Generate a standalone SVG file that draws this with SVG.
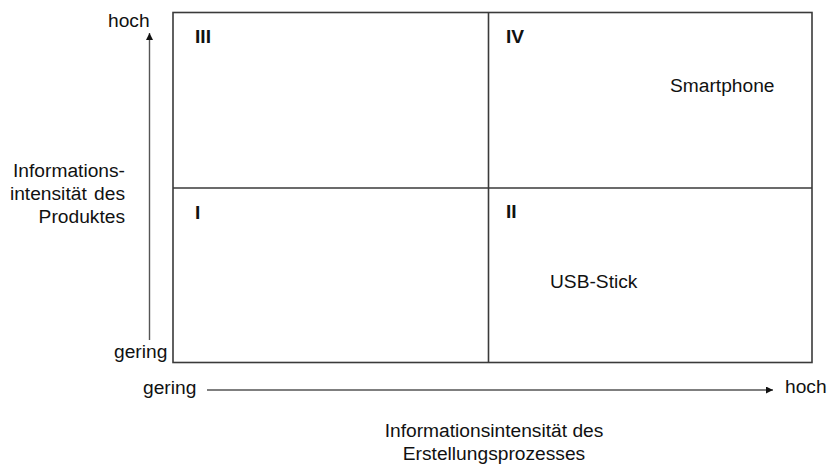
<svg xmlns="http://www.w3.org/2000/svg" width="829" height="466" viewBox="0 0 829 466">
<style>
text{font-family:"Liberation Sans",Arial,sans-serif;font-size:19.2px;fill:#111}
.b{font-weight:bold}
.box{fill:none;stroke:#3a3a3a;stroke-width:1.6}
.ax{stroke:#555;stroke-width:1.4;fill:none}
</style>
<defs>
<marker id="ah" viewBox="0 0 10 10" refX="10" refY="5" markerWidth="8" markerHeight="7" markerUnits="userSpaceOnUse" orient="auto">
<path d="M0,0 L10,5 L0,10 Z" fill="#111"/>
</marker>
</defs>
<g id="matrix">
<rect class="box" x="173" y="12.5" width="639" height="350"/>
<line class="box" x1="488.5" y1="12.5" x2="488.5" y2="362.5"/>
<line class="box" x1="173" y1="188" x2="812" y2="188"/>
</g>
<g id="q3"><text class="b" x="195" y="43">III</text></g>
<g id="q4"><text class="b" x="506" y="43">IV</text><text x="670" y="92">Smartphone</text></g>
<g id="q1"><text class="b" x="195" y="219">I</text></g>
<g id="q2"><text class="b" x="506" y="218">II</text><text x="550" y="288">USB-Stick</text></g>
<g id="connectors">
<line class="ax" x1="149.5" y1="340" x2="149.5" y2="33" marker-end="url(#ah)"/>
<line class="ax" x1="207" y1="390" x2="773" y2="390" marker-end="url(#ah)"/>
</g>
<g id="y-axis-labels">
<text x="108" y="27">hoch</text>
<text x="114" y="358">gering</text>
<text x="125" y="177" text-anchor="end">Informations-</text>
<text x="125" y="200" text-anchor="end" word-spacing="2">intensität des</text>
<text x="125" y="223" text-anchor="end">Produktes</text>
</g>
<g id="x-axis-labels">
<text x="143" y="394">gering</text>
<text x="785" y="393">hoch</text>
<text x="494" y="437" text-anchor="middle">Informationsintensität des</text>
<text x="494" y="460" text-anchor="middle">Erstellungsprozesses</text>
</g>
</svg>
